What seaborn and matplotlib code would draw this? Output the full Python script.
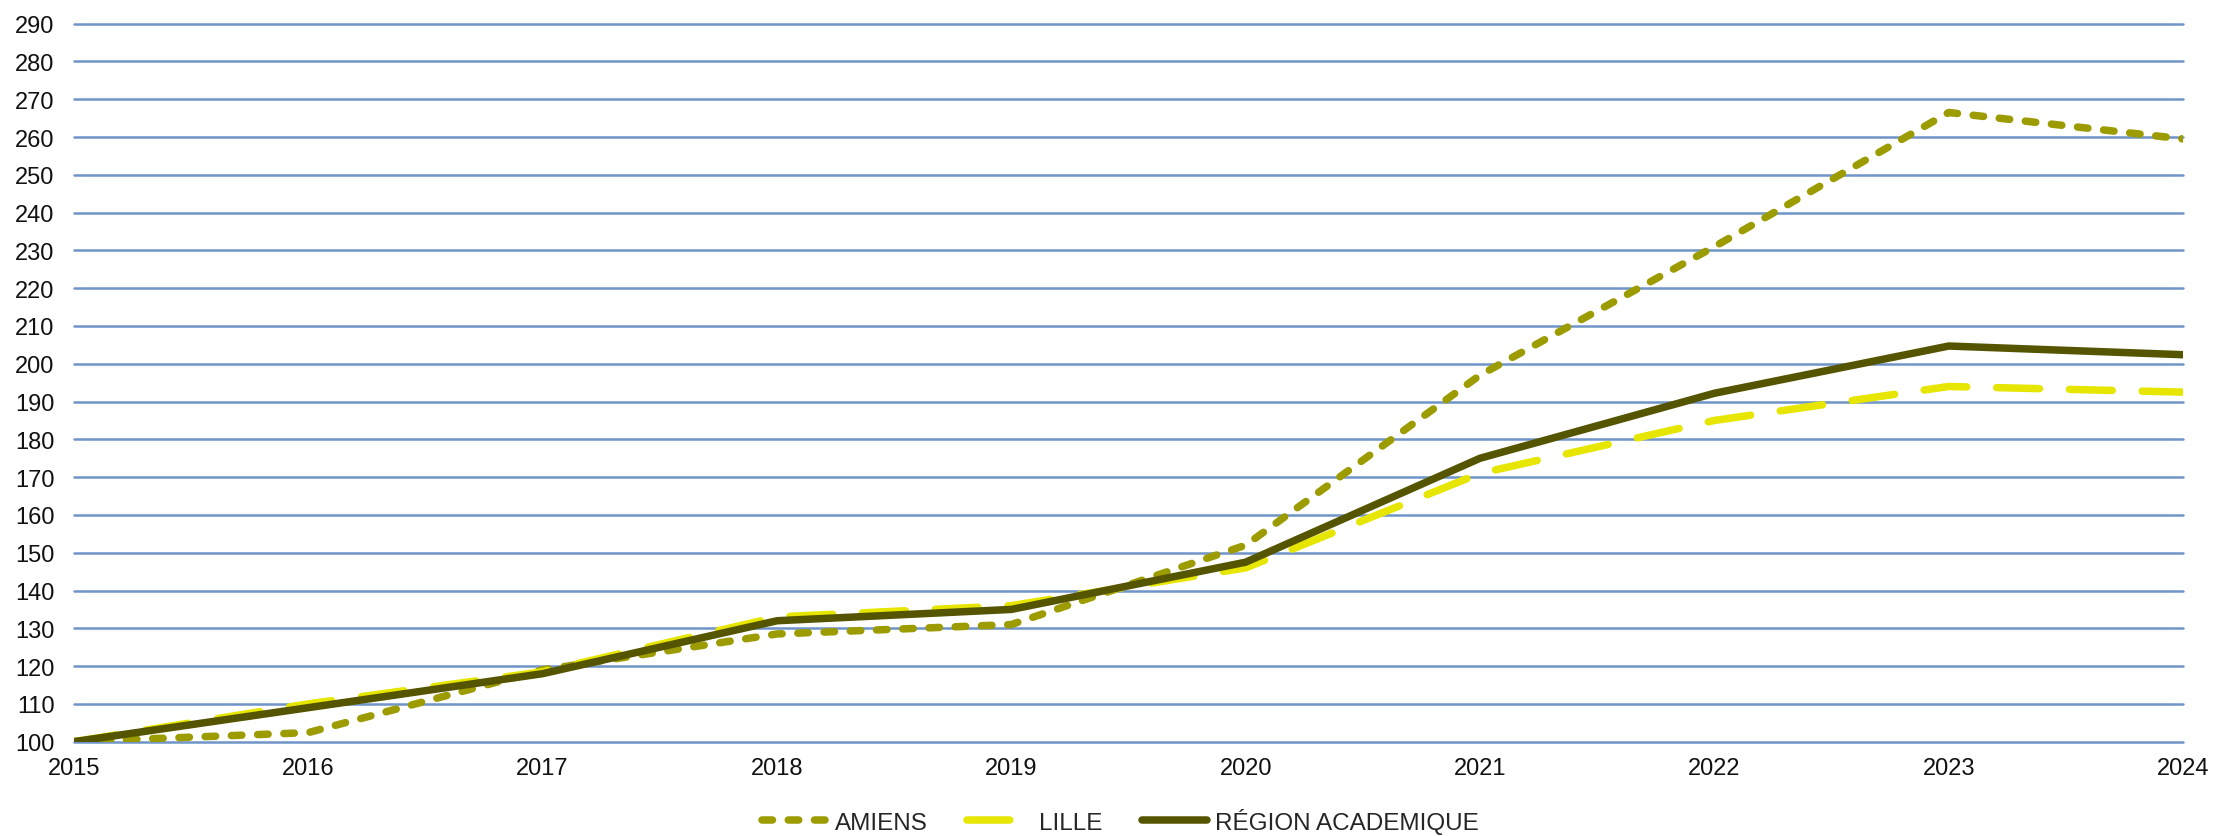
import matplotlib
matplotlib.use("Agg")
import matplotlib.pyplot as plt
import seaborn as sns
import pandas as pd

years = [2015, 2016, 2017, 2018, 2019, 2020, 2021, 2022, 2023, 2024]
amiens = [100, 102.4, 119, 128.5, 131, 152, 197, 231, 266.5, 259.5]
lille = [100, 110, 118.5, 133, 136, 146, 171, 185, 194, 192.5]
region = [100, 109, 118, 132, 135, 147.5, 175, 192.2, 204.7, 202.4]
series_names = ["AMIENS", "LILLE", "RÉGION ACADEMIQUE"]
y_ticks = list(range(100, 291, 10))

df = pd.DataFrame({
    "year": years * 3,
    "value": amiens + lille + region,
    "serie": [series_names[0]] * len(years) + [series_names[1]] * len(years) + [series_names[2]] * len(years),
})

sns.set_theme(style="white")
plt.rcParams["font.family"] = ["Liberation Sans", "DejaVu Sans"]

fig = plt.figure(figsize=(22.29, 8.37), dpi=100)
ax = fig.add_axes([0.0332, 0.1127, 0.9462, 0.8578])

palette = {series_names[0]: "#9c9c00", series_names[1]: "#e6e600", series_names[2]: "#555500"}
dashes = {series_names[0]: (1.4, 2.1), series_names[1]: (5.7, 4.0), series_names[2]: ""}

sns.lineplot(data=df, x="year", y="value", hue="serie", style="serie",
             palette=palette, dashes=dashes, hue_order=series_names, style_order=series_names,
             lw=5.4, ax=ax, legend=False, dash_capstyle="round", solid_capstyle="round", zorder=3)

for ln, z in zip(ax.lines, [3, 4, 5]):
    ln.set_zorder(z)

ax.set_xlim(2015, 2024)
ax.set_ylim(100, 290)
ax.set_yticks(y_ticks)
ax.set_xticks(years)
ax.set_xticklabels([str(y) for y in years])
ax.yaxis.grid(True, color="#6f94c8", lw=1.8, zorder=1)
for gl in ax.get_ygridlines():
    gl.set_clip_on(False)
ax.xaxis.grid(False)
for s in ax.spines.values():
    s.set_visible(False)
ax.tick_params(axis="both", labelsize=17, colors="#111111", length=0)
ax.tick_params(axis="x", pad=11)
ax.tick_params(axis="y", pad=14)
ax.set_xlabel("")
ax.set_ylabel("")

ax.legend(handles=ax.lines[:3], labels=series_names, loc="center",
          bbox_to_anchor=(0.496, -0.110), ncol=3, frameon=False,
          prop={"size": 17.5},
          handlelength=2.7, columnspacing=1.6, handletextpad=0.3)

fig.savefig("out.png", dpi=100)
